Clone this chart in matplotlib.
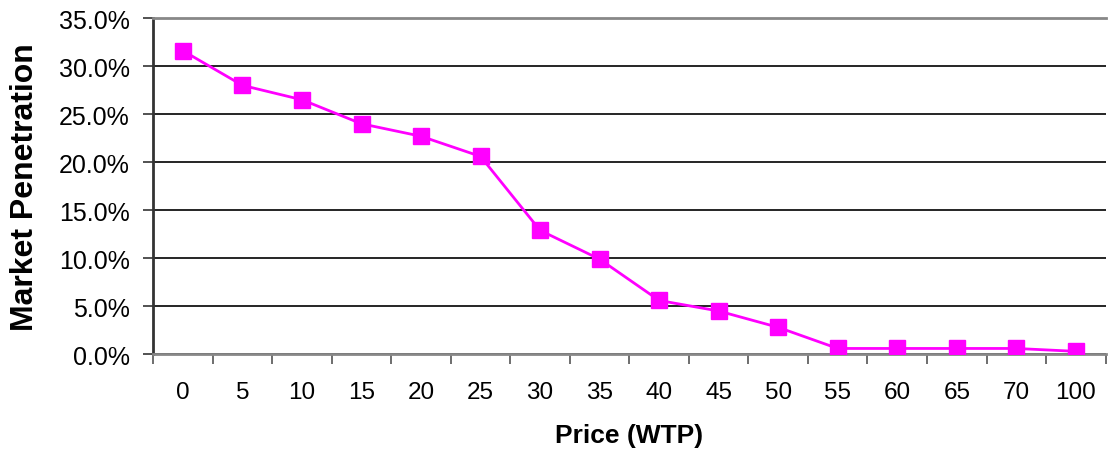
import matplotlib
matplotlib.use('Agg')
import numpy as np
import matplotlib.pyplot as plt
from matplotlib.ticker import FuncFormatter, FixedLocator

# price categories (WTP) and market penetration in %
prices = ['0', '5', '10', '15', '20', '25', '30', '35', '40', '45', '50',
          '55', '60', '65', '70', '100']
penetration = [31.6, 28.0, 26.5, 24.0, 22.7, 20.6, 12.9, 9.9, 5.6, 4.5, 2.8,
               0.6, 0.6, 0.6, 0.6, 0.3]

plt.rcParams['font.family'] = ['Liberation Sans', 'DejaVu Sans']

fig = plt.figure(figsize=(11.1, 4.56), dpi=100)
ax = fig.add_axes([0.138, 0.221, 0.858, 0.737])

x = np.arange(len(prices))
ax.plot(x, penetration, color='#ff00ff', linewidth=2, marker='s',
        markersize=11, markeredgecolor='#ff00ff', zorder=3)

ax.set_xlim(-0.5, len(prices) - 0.5)
ax.set_ylim(0, 35)
ax.set_yticks(np.arange(0, 36, 5))
ax.yaxis.set_major_formatter(FuncFormatter(lambda v, p: f'{v:.1f}%'))
ax.grid(axis='y', color='black', linewidth=1.2)

ax.set_xticks(x)
ax.set_xticklabels(prices)
ax.xaxis.set_minor_locator(FixedLocator(np.arange(-0.5, len(prices), 1)))
ax.tick_params(axis='x', which='major', length=0, pad=19, labelsize=17.5)
ax.tick_params(axis='x', which='minor', length=7, width=1.2, color='#555555')
ax.tick_params(axis='y', length=7, width=1.2, color='#333333', labelsize=18, pad=10)

ax.spines['right'].set_visible(False)
ax.spines['top'].set_color('#888888')
ax.spines['top'].set_linewidth(2)
ax.spines['left'].set_color('#333333')
ax.spines['left'].set_linewidth(2)
ax.spines['bottom'].set_color('#888888')
ax.spines['bottom'].set_linewidth(2)

ax.set_xlabel('Price (WTP)', fontsize=19, fontweight='bold', labelpad=15)
ax.set_ylabel('Market Penetration', fontsize=23, fontweight='bold')
ax.yaxis.set_label_coords(-0.119, 0.5)

fig.savefig('out.png', dpi=100)
